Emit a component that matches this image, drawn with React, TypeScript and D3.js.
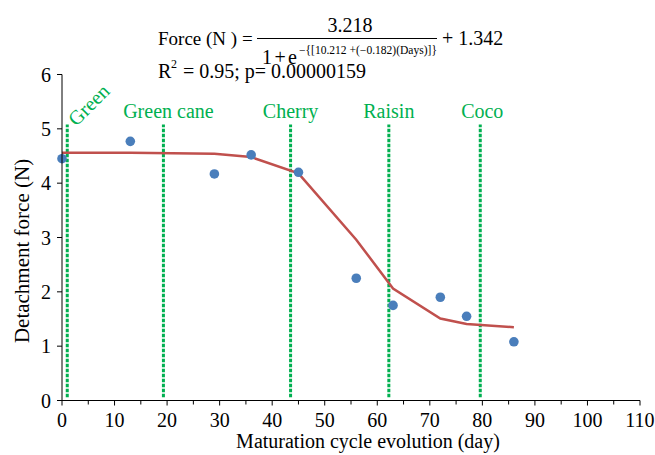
import React from "react";
import * as d3 from "d3";

const days = [0, 13, 29, 36, 45, 56, 63, 72, 77, 86];
const force = [4.45, 4.77, 4.17, 4.52, 4.2, 2.25, 1.75, 1.9, 1.55, 1.08];
const fitted = [4.56, 4.56, 4.54, 4.48, 4.18, 2.96, 2.06, 1.51, 1.41, 1.35];
const stageNames = ["Green", "Green cane", "Cherry", "Raisin", "Coco"];
const stageDays = [1, 19.3, 43.5, 62.2, 79.6];
const xTicks = [0, 10, 20, 30, 40, 50, 60, 70, 80, 90, 100, 110];
const xMinor = [5, 15, 25, 35, 45, 55, 65, 75, 85, 95, 105];
const yTicks = [0, 1, 2, 3, 4, 5, 6];

const W = 655;
const H = 455;
const FONT = "'Liberation Serif', 'Times New Roman', serif";
const GREEN = "#00b050";

export default function App() {
  const x = d3.scaleLinear().domain([0, 110]).range([62, 640]);
  const y = d3.scaleLinear().domain([0, 6]).range([400.5, 74.5]);
  const line = d3
    .line<number>()
    .x((_, i) => x(days[i]))
    .y((d) => y(d));

  return (
    <svg
      width={W}
      height={H}
      style={{ position: "absolute", left: 0, top: 0, background: "#fff" }}
      fontFamily={FONT}
    >
      {/* stage lines */}
      {stageDays.map((d, i) => (
        <line
          key={"s" + i}
          x1={x(d)}
          x2={x(d)}
          y1={y(0.06)}
          y2={y(5.08)}
          stroke={GREEN}
          strokeWidth={3}
          strokeDasharray="3.5,1.5"
        />
      ))}
      {/* stage labels */}
      {stageNames.map((n, i) =>
        i === 0 ? (
          <text
            key={"l" + i}
            transform={`translate(${x(stageDays[i]) + 9},127) rotate(-45)`}
            fontSize={20}
            fill={GREEN}
          >
            {n}
          </text>
        ) : (
          <text
            key={"l" + i}
            x={x(stageDays[i]) + (i === 3 ? 0 : i === 4 ? 2 : i === 2 ? 0 : 5)}
            y={118}
            textAnchor="middle"
            fontSize={20}
            fill={GREEN}
          >
            {n}
          </text>
        )
      )}

      {/* fitted line */}
      <path d={line(fitted) || ""} fill="none" stroke="#c0504d" strokeWidth={2.5} />
      {/* points */}
      {days.map((d, i) => (
        <circle key={"p" + i} cx={x(d)} cy={y(force[i])} r={4.8} fill="#4a7ebb" />
      ))}

      {/* axes */}
      <line x1={x(0)} x2={x(0)} y1={y(0)} y2={y(6)} stroke="#000" strokeWidth={1} />
      <line x1={x(0)} x2={x(110)} y1={y(0)} y2={y(0)} stroke="#000" strokeWidth={1} />
      {yTicks.map((t) => (
        <g key={"y" + t}>
          <line x1={x(0) - 5} x2={x(0)} y1={y(t)} y2={y(t)} stroke="#000" />
          <text x={51} y={y(t) + 7} textAnchor="end" fontSize={20} fill="#000">
            {t}
          </text>
        </g>
      ))}
      {xTicks.map((t) => (
        <g key={"x" + t}>
          <line x1={x(t)} x2={x(t)} y1={y(0)} y2={y(0) + 5} stroke="#000" />
          <text x={x(t)} y={427} textAnchor="middle" fontSize={20} fill="#000">
            {t}
          </text>
        </g>
      ))}
      {xMinor.map((t) => (
        <line key={"m" + t} x1={x(t)} x2={x(t)} y1={y(0)} y2={y(0) + 4} stroke="#000" />
      ))}

      {/* axis titles */}
      <text x={368} y={448} textAnchor="middle" fontSize={20} fill="#000">
        Maturation cycle evolution (day)
      </text>
      <text
        transform="translate(29,251) rotate(-90)"
        textAnchor="middle"
        fontSize={21}
        fill="#000"
      >
        Detachment force (N)
      </text>

      {/* equation */}
      <g fill="#000">
        <text x={158} y={45} fontSize={19}>
          Force (N ) =
        </text>
        <text x={350} y={32} textAnchor="middle" fontSize={20}>
          3.218
        </text>
        <line x1={257} x2={437} y1={38.5} y2={38.5} stroke="#000" strokeWidth={1} />
        <text x={262} y={64} fontSize={20}>1</text>
        <text x={274.5} y={64} fontSize={20}>+</text>
        <text x={288} y={64} fontSize={20}>e</text>
        <text x={299} y={54} fontSize={11.5} textLength={138} lengthAdjust="spacingAndGlyphs">
          −{"{"}[10.212 +(−0.182)(Days)]{"}"}
        </text>
        <text x={442} y={45} fontSize={20}>
          + 1.342
        </text>
        <text x={158} y={78} fontSize={20}>
          R
        </text>
        <text x={171} y={68} fontSize={12}>
          2
        </text>
        <text x={183} y={78} fontSize={20}>
          = 0.95; p= 0.00000159
        </text>
      </g>
    </svg>
  );
}
